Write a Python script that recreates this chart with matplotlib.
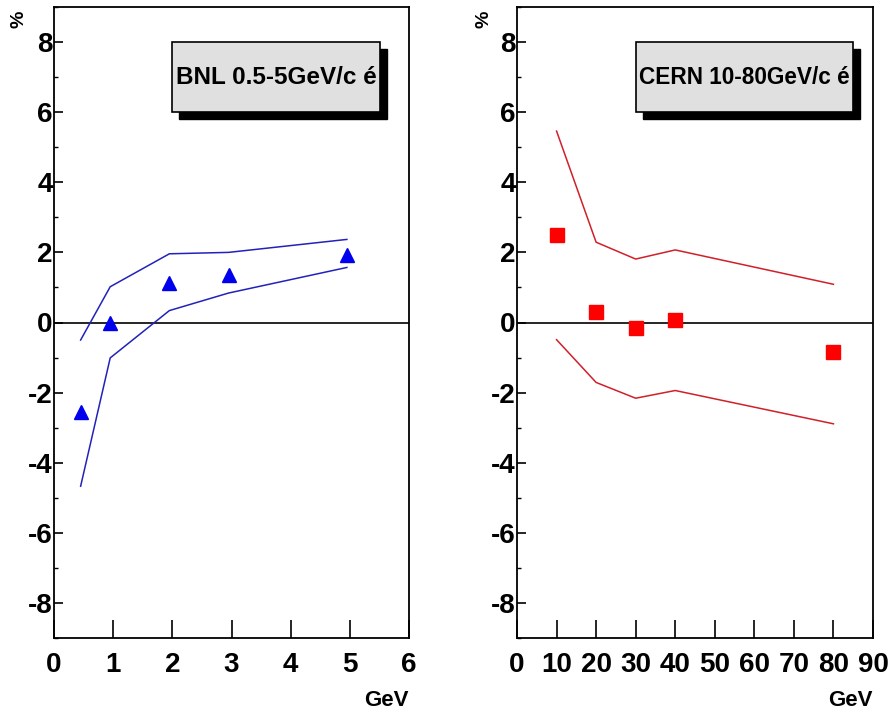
import numpy as np
import matplotlib
matplotlib.use('Agg')
from matplotlib import pyplot as plt
from matplotlib.patches import Rectangle
from matplotlib.ticker import MultipleLocator

plt.rcParams['font.family'] = ['Liberation Sans', 'DejaVu Sans']
plt.rcParams['font.weight'] = 'bold'
plt.rcParams['axes.unicode_minus'] = False

########################################################################
# Data
########################################################################

bnl_x = [0.45, 0.95, 1.95, 2.95, 4.95]
bnl_y = [-2.55, 0.0, 1.13, 1.36, 1.93]
bnl_up = [-0.5, 1.02, 1.96, 2.0, 2.37]
bnl_lo = [-4.67, -1.01, 0.34, 0.84, 1.57]

cern_x = [10, 20, 30, 40, 80]
cern_y = [2.5, 0.3, -0.16, 0.06, -0.85]
cern_up = [5.46, 2.29, 1.81, 2.07, 1.09]
cern_lo = [-0.49, -1.71, -2.16, -1.94, -2.89]

########################################################################
# Plot
########################################################################

W, H = 889, 715
fig = plt.figure(figsize=(W / 100, H / 100), dpi=100)

def px_box(x0, y0, x1, y1):
    return [x0 / W, 1 - y1 / H, (x1 - x0) / W, (y1 - y0) / H]

def style_axis(ax, xmax, xstep):
    ax.set_xlim(0, xmax)
    ax.set_ylim(-9, 9)
    ax.xaxis.set_major_locator(MultipleLocator(xstep))
    ax.yaxis.set_major_locator(MultipleLocator(2))
    ax.yaxis.set_minor_locator(MultipleLocator(1))
    ax.tick_params(axis='x', direction='in', length=13, width=1.2, pad=10,
                   labelsize=20, top=False)
    ax.tick_params(axis='y', which='major', direction='in', length=6.5, width=1.2,
                   pad=1, labelsize=20, right=False)
    ax.tick_params(axis='y', which='minor', direction='in', length=3, width=1.0,
                   right=False)
    ax.set_yticks(np.arange(-8, 9, 2))
    for s in ax.spines.values():
        s.set_linewidth(1.3)
    ax.axhline(0, color='black', lw=1.2)

def label_box(ax, x0, x1, y0, y1, text, size):
    shadow = Rectangle((x0 + 0.02, y0 - 0.011), x1 - x0, y1 - y0,
                       transform=ax.transAxes, facecolor='black',
                       edgecolor='black', zorder=4)
    box = Rectangle((x0, y0), x1 - x0, y1 - y0, transform=ax.transAxes,
                    facecolor='#e0e0e0', edgecolor='black', lw=1.2, zorder=5)
    ax.add_patch(shadow)
    ax.add_patch(box)
    ax.text((x0 + x1) / 2, (y0 + y1) / 2, text, transform=ax.transAxes,
            ha='center', va='center', fontsize=size, fontweight='bold', zorder=6)

# BNL
ax1 = fig.add_axes(px_box(54, 7, 409, 638))
style_axis(ax1, 6, 1)
ax1.plot(bnl_x, bnl_up, color='#2222bb', lw=1.1)
ax1.plot(bnl_x, bnl_lo, color='#2222bb', lw=1.1)
ax1.plot(bnl_x, bnl_y, linestyle='none', marker='^', markersize=9.5,
         color='#0000ee', zorder=3)
label_box(ax1, 0.332, 0.918, 0.8336, 0.9445, 'BNL 0.5-5GeV/c é', 17.5)

# CERN
ax2 = fig.add_axes(px_box(517, 7, 873, 638))
style_axis(ax2, 90, 10)
ax2.plot(cern_x, cern_up, color='#d0202a', lw=1.1)
ax2.plot(cern_x, cern_lo, color='#d0202a', lw=1.1)
ax2.plot(cern_x, cern_y, linestyle='none', marker='s', markersize=9.5,
         color='#ff0000', zorder=3)
label_box(ax2, 0.334, 0.944, 0.8336, 0.9445, 'CERN 10-80GeV/c é', 16.3)

# axis titles
for xc in (19, 484):
    fig.text(xc / W, 1 - 19 / H, '%', rotation=90, ha='center', va='center',
             fontsize=14, fontweight='bold')
fig.text(409 / W, 1 - 700 / H, 'GeV', ha='right', va='center', fontsize=16,
         fontweight='bold')
fig.text(873 / W, 1 - 700 / H, 'GeV', ha='right', va='center', fontsize=16,
         fontweight='bold')

plt.savefig('out.png', dpi=100)
